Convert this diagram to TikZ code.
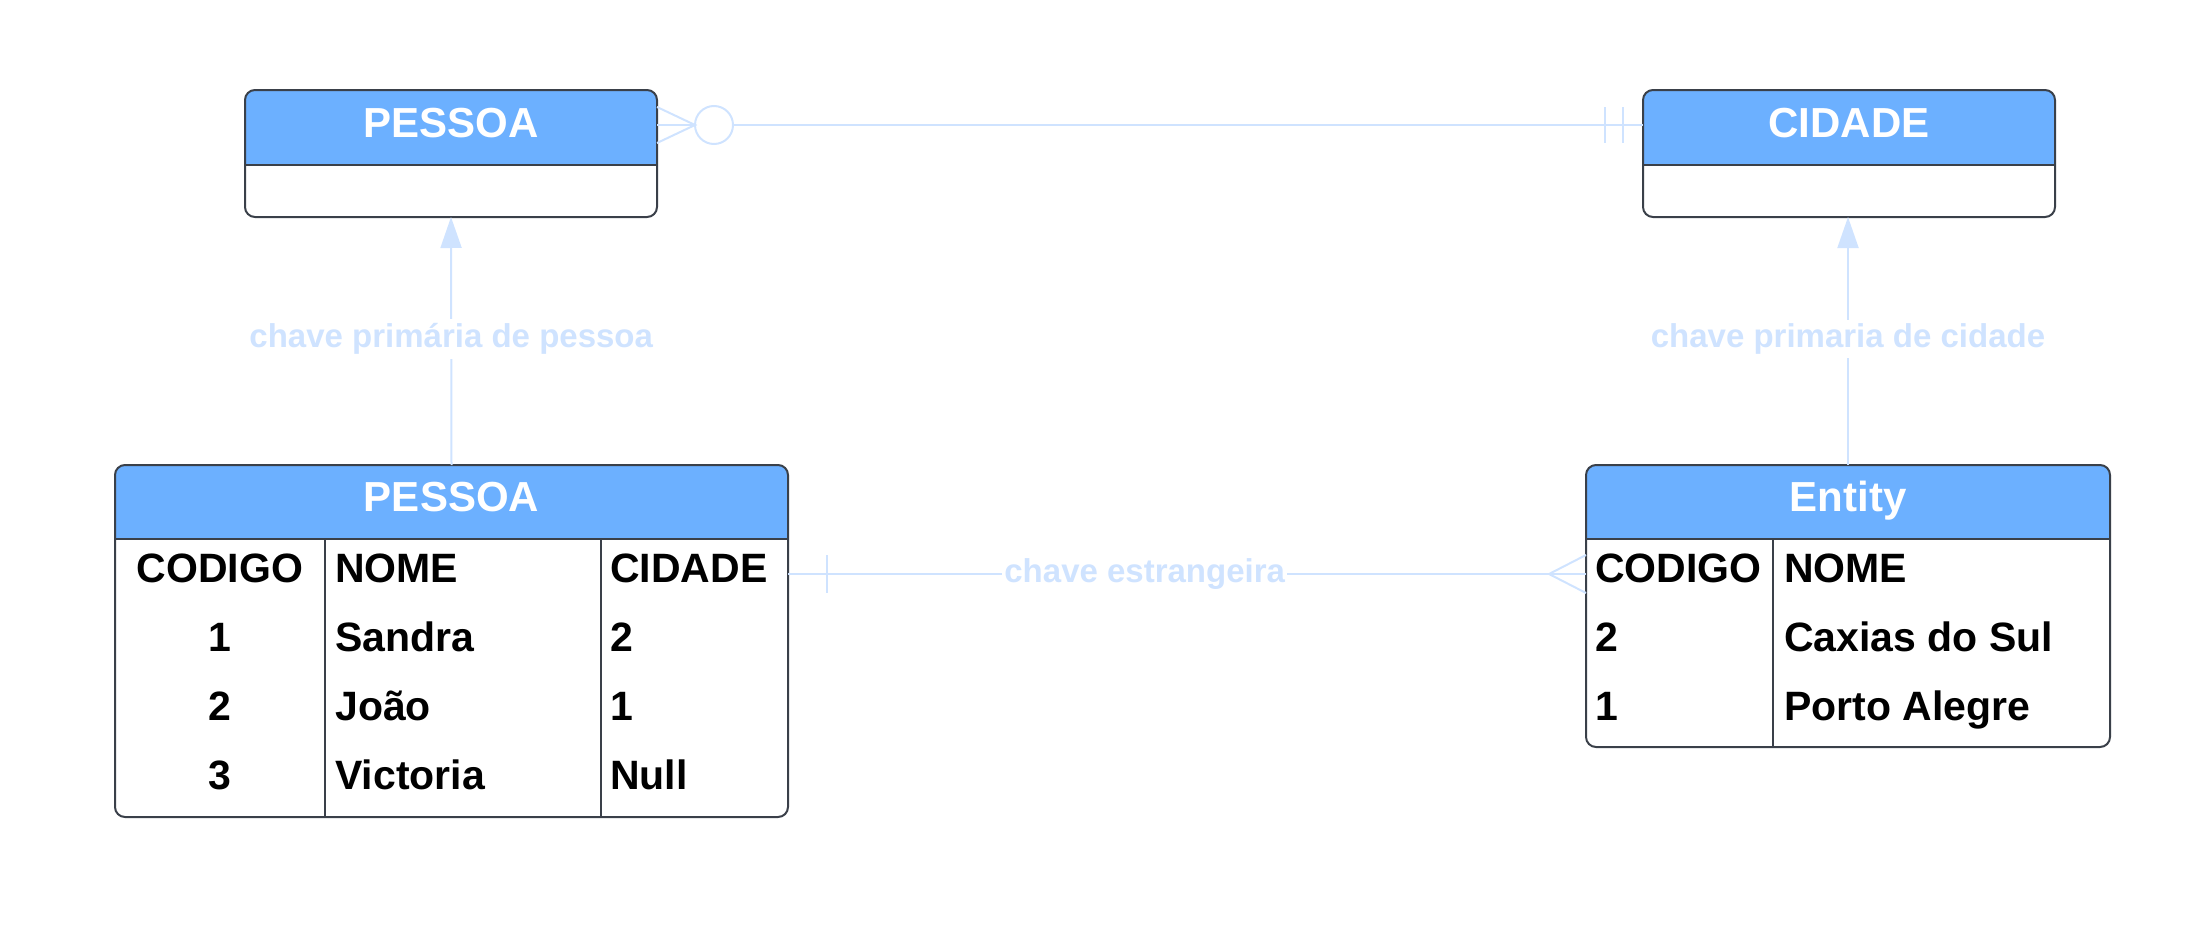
\documentclass[tikz,border=0pt]{standalone}
\usepackage{fontspec}
\setmainfont{Liberation Sans}
\usetikzlibrary{positioning,arrows.meta,calc}

\definecolor{headblue}{HTML}{6CB0FF}
\definecolor{linkblue}{HTML}{CFE3FF}
\definecolor{edgegray}{HTML}{3A4049}

% blue title band of a table, then its frame
\newcommand{\tabhead}[2]{%
  \begin{scope}
    \clip[rounded corners=10pt] (#1.north west) rectangle (#1.south east);
    \fill[headblue] (#1.north west) rectangle ($(#1.north east)+(0,#2)$);
  \end{scope}
  \draw[edge] ($(#1.north west)+(0,#2)$) -- ($(#1.north east)+(0,#2)$);
  \draw[edge, rounded corners=10pt] (#1.north west) rectangle (#1.south east);}

\begin{document}
\begin{tikzpicture}[x=1pt, y=-1pt,
  tabbox/.style={inner sep=0pt, outer sep=0pt, anchor=north west},
  edge/.style={draw=edgegray, line width=2pt},
  coldiv/.style={draw=edgegray, line width=1.5pt},
  headtxt/.style={text=white, anchor=base, font=\fontsize{42}{50}\selectfont\bfseries},
  celltxt/.style={inner sep=0pt, anchor=base west, font=\fontsize{41}{49}\selectfont\bfseries},
  link/.style={draw=linkblue, line width=2pt},
  linktxt/.style={text=linkblue, fill=white, inner sep=4pt, font=\fontsize{33}{40}\selectfont\bfseries}]

\useasboundingbox (0,0) rectangle (2211,934);

% entities
\node[tabbox, minimum width=412pt, minimum height=127pt] (pessoa) at (245,90) {};
\node[tabbox, minimum width=412pt, minimum height=127pt] (cidade) at (1643,90) {};
\node[tabbox, minimum width=673pt, minimum height=352pt] (pessoaTab) at (115,465) {};
\node[tabbox, minimum width=524pt, minimum height=282pt] (entity) at (1586,465) {};

\tabhead{pessoa}{75}
\tabhead{cidade}{75}
\tabhead{pessoaTab}{74}
\tabhead{entity}{74}

\node[headtxt] (pessoaTit) at ($(pessoa.north)+(0,47)$) {PESSOA};
\node[headtxt] (cidadeTit) at ($(cidade.north)+(0,47)$) {CIDADE};
\node[headtxt] (pessoaTabTit) at ($(pessoaTab.north)+(0,46)$) {PESSOA};
\node[headtxt] (entityTit) at ($(entity.north)+(0,46)$) {Entity};

% tabela pessoa
\draw[coldiv] (325,539) -- (325,817);
\draw[coldiv] (601,539) -- (601,817);
\node[celltxt, anchor=base] (pCod) at (220,582) {CODIGO};
\node[celltxt] (pNome) at (335,582) {NOME};
\node[celltxt] (pCid) at (610,582) {CIDADE};
\foreach \cod/\nome/\cid [count=\i] in {1/Sandra/2, 2/João/1, 3/Victoria/Null}{
  \node[celltxt, anchor=base] (pCod\i) at (220,582+69*\i) {\cod};
  \node[celltxt] (pNome\i) at (335,582+69*\i) {\nome};
  \node[celltxt] (pCid\i) at (610,582+69*\i) {\cid};
}

% tabela cidade
\draw[coldiv] (1773,539) -- (1773,747);
\node[celltxt] (eCod) at (1595,582) {CODIGO};
\node[celltxt] (eNome) at (1784,582) {NOME};
\foreach \cod/\nome [count=\i] in {2/Caxias do Sul, 1/Porto Alegre}{
  \node[celltxt] (eCod\i) at (1595,582+69*\i) {\cod};
  \node[celltxt] (eNome\i) at (1784,582+69*\i) {\nome};
}

% chaves primarias
\draw[link, -{Triangle[length=31pt, width=21pt]}, linkblue] (pessoaTab.north) -- (pessoa.south)
  node[linktxt, pos=0.508] (pkPessoa) {chave primária de pessoa};
\draw[link, -{Triangle[length=31pt, width=21pt]}, linkblue] (entity.north) -- (entity.north |- cidade.south)
  node[linktxt, pos=0.508] (pkCidade) {chave primaria de cidade};

% relacao pessoa - cidade
\coordinate (pR) at ($(pessoa.north east)+(0,35)$);
\coordinate (cL) at ($(cidade.north west)+(0,35)$);
\draw[link] (pR) -- ++(38,0);
\draw[link] ($(pR)+(0,-18)$) -- ($(pR)+(38,0)$) -- ($(pR)+(0,18)$);
\draw[link] ($(pR)+(57,0)$) circle (19);
\draw[link] ($(pR)+(76,0)$) -- (cL);
\draw[link] ($(cL)+(-38,-18)$) -- ++(0,36);
\draw[link] ($(cL)+(-20,-18)$) -- ++(0,36);

% chave estrangeira
\coordinate (pF) at ($(pessoaTab.north east)+(0,109)$);
\coordinate (eF) at ($(entity.north west)+(0,109)$);
\draw[link] (pF) -- (eF) node[linktxt, pos=0.447, inner sep=2pt] (fkTxt) {chave estrangeira};
\draw[link] ($(pF)+(39,-19)$) -- ++(0,38);
\draw[link] ($(eF)+(0,-19)$) -- ($(eF)+(-37,0)$) -- ($(eF)+(0,19)$);
\end{tikzpicture}
\end{document}
